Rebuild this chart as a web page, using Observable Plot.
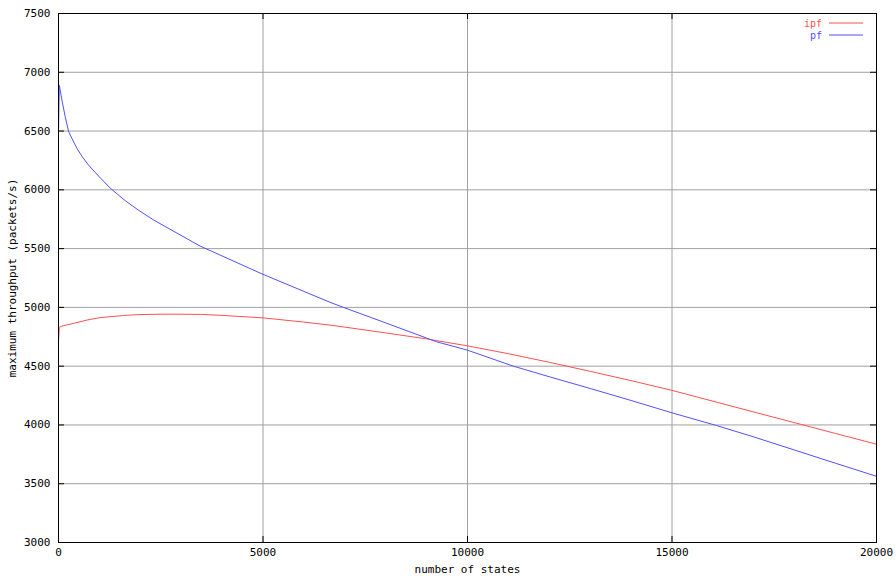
<!DOCTYPE html>
<html>
<head>
<meta charset="utf-8">
<script src="https://cdn.jsdelivr.net/npm/d3@7"></script>
<script src="https://cdn.jsdelivr.net/npm/@observablehq/plot@0.6"></script>
<style>
  html, body { margin: 0; padding: 0; background: #fff; }
  #chart { position: relative; width: 896px; height: 576px; }
  svg { display: block; }
</style>
</head>
<body>
<div id="chart"></div>
<script>
// ---- data ----
const ipfStates = [0, 20, 83, 367, 693, 1019, 1589, 1916, 2500, 3000, 3500, 4000, 5000, 6000, 6640, 7000, 8000, 9000, 9248, 10000, 11000, 12000, 13000, 14000, 15000, 16000, 17000, 18000, 19000, 20000];
const ipfThroughput = [4707, 4830, 4841, 4864, 4892, 4913, 4931, 4938, 4942, 4942, 4940, 4932, 4911, 4875, 4849, 4832, 4783, 4732, 4717, 4673, 4606, 4533, 4456, 4377, 4294, 4202, 4110, 4019, 3927, 3836];

const pfStates = [0, 20, 83, 164, 244, 326, 450, 571, 733, 977, 1263, 1630, 1955, 2322, 3460, 5000, 6000, 6640, 6966, 8000, 9000, 9248, 10000, 11120, 12000, 13000, 14000, 15000, 16090, 17000, 18000, 19000, 20000];
const pfThroughput = [6500, 6890, 6764, 6622, 6500, 6438, 6353, 6287, 6211, 6118, 6015, 5908, 5827, 5744, 5522, 5281, 5136, 5043, 5000, 4868, 4739, 4707, 4636, 4500, 4410, 4310, 4208, 4103, 3995, 3898, 3786, 3674, 3563];

const xTicks = [0, 5000, 10000, 15000, 20000];
const yTicks = [3000, 3500, 4000, 4500, 5000, 5500, 6000, 6500, 7000, 7500];
const seriesNames = ["ipf", "pf"];
const seriesColors = ["#ff5050", "#5050ff"];
const xLabel = "number of states";
const yLabel = "maximum throughput (packets/s)";

// ---- build ----
const ipf = ipfStates.map((x, i) => ({x, y: ipfThroughput[i]}));
const pf = pfStates.map((x, i) => ({x, y: pfThroughput[i]}));

const W = 896, H = 576;
const mL = 58, mR = 20, mT = 13, mB = 34;
const pw = W - mL - mR, ph = H - mT - mB;
const font = "'DejaVu Sans Mono', monospace";
const tickLen = 6;

const innerX = xTicks.slice(1, -1);
const innerY = yTicks.slice(1, -1);

const plot = Plot.plot({
  width: W,
  height: H,
  marginLeft: mL,
  marginRight: mR,
  marginTop: mT,
  marginBottom: mB,
  style: {fontFamily: font, fontSize: "11px", color: "#000", background: "#fff"},
  x: {domain: [0, 20000], label: null},
  y: {domain: [3000, 7500], label: null},
  marks: [
    Plot.gridX(innerX, {stroke: "#a0a0a0", strokeOpacity: 1, strokeWidth: 1}),
    Plot.gridY(innerY, {stroke: "#a0a0a0", strokeOpacity: 1, strokeWidth: 1}),
    // inward tick marks on all four sides
    Plot.tickY(yTicks, {y: d => d, stroke: "#000", insetRight: pw - tickLen}),
    Plot.tickY(yTicks, {y: d => d, stroke: "#000", insetLeft: pw - tickLen}),
    Plot.tickX(xTicks, {x: d => d, stroke: "#000", insetTop: ph - tickLen}),
    Plot.tickX(xTicks, {x: d => d, stroke: "#000", insetBottom: ph - tickLen}),
    Plot.axisY(yTicks, {tickSize: 0, tickPadding: 8, label: null, fontSize: 11, fontFamily: font, fill: "#000", tickFormat: d => String(d)}),
    Plot.axisX(xTicks, {tickSize: 0, tickPadding: 6, label: null, fontSize: 11, fontFamily: font, fill: "#000", tickFormat: d => String(d)}),
    Plot.line(ipf, {x: "x", y: "y", stroke: seriesColors[0], strokeWidth: 1}),
    Plot.line(pf, {x: "x", y: "y", stroke: seriesColors[1], strokeWidth: 1}),
    Plot.frame({stroke: "#000", strokeWidth: 1}),
    Plot.text([xLabel], {frameAnchor: "bottom", dy: 27, text: d => d, fontSize: 11, fontFamily: font, fill: "#000", textAnchor: "middle", lineAnchor: "middle"}),
    Plot.text([yLabel], {frameAnchor: "left", dx: -46, rotate: -90, text: d => d, fontSize: 11, fontFamily: font, fill: "#000", textAnchor: "middle", lineAnchor: "middle"})
  ]
});

document.getElementById("chart").appendChild(plot);

// legend (top right, inside the frame)
const svg = d3.select(plot);
const legend = svg.append("g").attr("font-family", font).attr("font-size", 10);
seriesNames.forEach((name, i) => {
  const ly = 23 + i * 12;
  legend.append("text")
    .attr("x", 822).attr("y", ly).attr("dy", "0.36em")
    .attr("text-anchor", "end")
    .attr("fill", seriesColors[i])
    .text(name);
  legend.append("line")
    .attr("x1", 829).attr("x2", 863)
    .attr("y1", ly).attr("y2", ly)
    .attr("stroke", seriesColors[i]).attr("stroke-width", 1);
});
</script>
</body>
</html>
